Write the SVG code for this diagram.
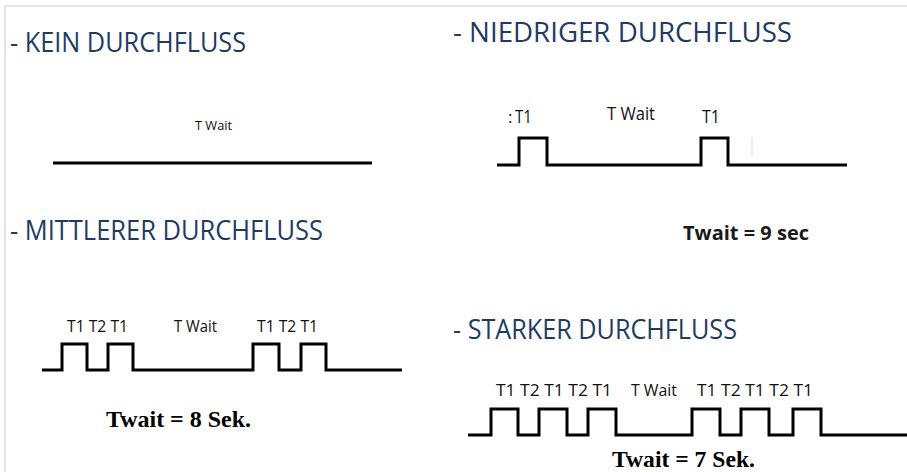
<svg xmlns="http://www.w3.org/2000/svg" width="907" height="472" viewBox="0 0 907 472">
<style>
.frame{stroke:#e4e4e4;stroke-width:2;fill:none}
.hdr{font-family:"Open Sans","Liberation Sans",sans-serif;font-size:27px;fill:#1f3b63}
.lbl{font-family:"Open Sans","Liberation Sans",sans-serif;fill:#111}
.wave{fill:none;stroke:#000;stroke-width:3;stroke-linejoin:miter;stroke-linecap:butt}
.bsans{font-family:"Open Sans","Liberation Sans",sans-serif;font-weight:bold;font-size:20px;fill:#1a1a1a}
.bserif{font-family:"Liberation Serif","Times New Roman",serif;font-weight:bold;font-size:23px;fill:#000}
</style>
<rect width="907" height="472" fill="#fff"/>
<path class="frame" d="M5,472 V6 H907"/>

<g id="kein">
<text class="hdr" x="10" y="52" textLength="236" lengthAdjust="spacingAndGlyphs">- KEIN DURCHFLUSS</text>
<text class="lbl" x="195" y="130" font-size="13.5" textLength="37" lengthAdjust="spacingAndGlyphs">T Wait</text>
</g>

<g id="niedrig">
<text class="hdr" x="453" y="42" textLength="339" lengthAdjust="spacingAndGlyphs">- NIEDRIGER DURCHFLUSS</text>
<text class="lbl" x="508" y="123" font-size="17" fill="#c8c8c8">:</text>
<text class="lbl" x="515" y="123" font-size="18.5" textLength="17" lengthAdjust="spacingAndGlyphs">T1</text>
<text class="lbl" x="607" y="120" font-size="18.5" textLength="48" lengthAdjust="spacingAndGlyphs">T Wait</text>
<text class="lbl" x="702" y="123" font-size="18.5" textLength="18" lengthAdjust="spacingAndGlyphs">T1</text>
<line x1="752" y1="137" x2="752" y2="156" stroke="#ddd" stroke-width="1"/>
<text class="bsans" x="683" y="240" textLength="126" lengthAdjust="spacingAndGlyphs">Twait = 9 sec</text>
</g>

<g id="mittel">
<text class="hdr" x="10" y="240" textLength="313" lengthAdjust="spacingAndGlyphs">- MITTLERER DURCHFLUSS</text>
<text class="lbl" x="67" y="332" font-size="17" textLength="61" lengthAdjust="spacingAndGlyphs">T1 T2 T1</text>
<text class="lbl" x="174" y="332" font-size="17" textLength="43" lengthAdjust="spacingAndGlyphs">T Wait</text>
<text class="lbl" x="257" y="332" font-size="17" textLength="61" lengthAdjust="spacingAndGlyphs">T1 T2 T1</text>
<text class="bserif" x="106" y="427" textLength="145" lengthAdjust="spacingAndGlyphs">Twait = 8 Sek.</text>
</g>

<g id="stark">
<text class="hdr" x="453" y="339" textLength="284" lengthAdjust="spacingAndGlyphs">- STARKER DURCHFLUSS</text>
<text class="lbl" x="496" y="396" font-size="17" textLength="116" lengthAdjust="spacingAndGlyphs">T1 T2 T1 T2 T1</text>
<text class="lbl" x="631" y="396" font-size="17" textLength="46" lengthAdjust="spacingAndGlyphs">T Wait</text>
<text class="lbl" x="697" y="396" font-size="17" textLength="116" lengthAdjust="spacingAndGlyphs">T1 T2 T1 T2 T1</text>
<text class="bserif" x="612" y="467" font-size="22" textLength="143" lengthAdjust="spacingAndGlyphs">Twait = 7 Sek.</text>
</g>

<g id="connectors">
<path class="wave" d="M53,163 H372"/>
<path class="wave" d="M497,165 H519 V138 H547 V165 H701 V138 H728 V165 H847"/>
<path class="wave" d="M42,370 H62 V344 H87 V370 H108 V344 H133 V370 H253 V344 H279 V370 H301 V344 H326 V370 H402"/>
<path class="wave" d="M468,435 H491 V409 H518 V435 H539 V409 H567 V435 H588 V409 H616 V435 H692 V409 H720 V435 H741 V409 H769 V435 H793 V409 H821 V435 H907"/>
</g>
</svg>
